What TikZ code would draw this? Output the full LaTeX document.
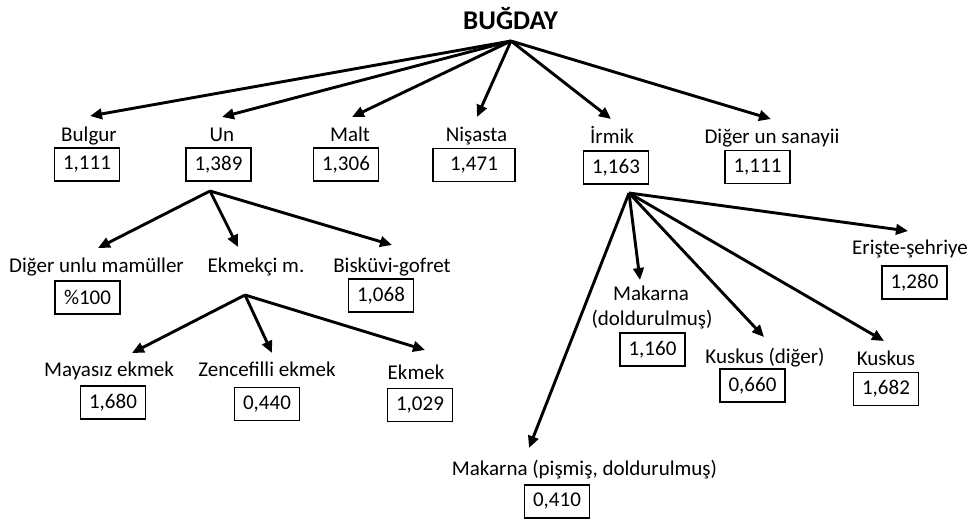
\documentclass[tikz,border=0pt]{standalone}
\usepackage{fontspec}
\setmainfont{Carlito}
\usetikzlibrary{arrows.meta}
\tikzset{
  lab/.style={inner sep=0pt, anchor=base, font=\fontsize{21}{25}\selectfont},
  valbox/.style={draw, line width=1.5pt, minimum width=65pt, minimum height=33pt, inner sep=0pt, font=\fontsize{21}{25}\selectfont},
  arr/.style={line width=2.9pt, -{Triangle[length=12pt,width=10.5pt]}}
}
\begin{document}
\begin{tikzpicture}[x=1pt,y=-1pt]
\useasboundingbox (0,0) rectangle (972,521);
% root
\node[inner sep=0pt, anchor=base, font=\fontsize{27}{31}\selectfont\bfseries] (bugday) at (510.5,30) {BUĞDAY};
\coordinate (a0) at (511,41);
% level 1
\node[lab] (lbul) at (89,142) {Bulgur};
\node[valbox] (bbul) at (87,164.5) {1,111};
\node[lab] (lun) at (222,142) {Un};
\node[valbox] (bun) at (218.5,164.5) {1,389};
\node[lab] (lmalt) at (350,142) {Malt};
\node[valbox] (bmalt) at (346,164.5) {1,306};
\node[lab] (lnis) at (476.5,142) {Nişasta};
\node[valbox, minimum width=82pt] (bnis) at (474,165) {1,471};
\node[lab] (lirm) at (612,144) {İrmik};
\node[valbox] (birm) at (616,167.5) {1,163};
\node[lab] (ldig) at (772,144) {Diğer un sanayii};
\node[valbox] (bdig) at (757.5,167) {1,111};
\coordinate (t1) at (90,116);
\coordinate (t2) at (222,117);
\coordinate (t3) at (352,117);
\coordinate (t4) at (477,117);
\coordinate (t5) at (611,119);
\coordinate (t6) at (771,119);
\foreach \t in {t1,t2,t3,t4,t5,t6} \draw[arr] (a0) -- (\t);
% level 2 (Un)
\coordinate (a1) at (210,191);
\node[lab] (ldum) at (96.5,273) {Diğer unlu mamüller};
\node[valbox] (bdum) at (87.5,297.5) {\%100};
\node[lab] (lekm) at (256,273) {Ekmekçi m.};
\node[lab] (lbis) at (392,273) {Bisküvi-gofret};
\node[valbox] (bbis) at (381,295.5) {1,068};
\coordinate (u1) at (98,248);
\coordinate (u2) at (238,247);
\coordinate (u3) at (392,245);
\foreach \t in {u1,u2,u3} \draw[arr] (a1) -- (\t);
% level 3 (Ekmekci)
\coordinate (a2) at (245,295);
\node[lab] (lmay) at (109,377) {Mayasız ekmek};
\node[valbox] (bmay) at (113,402.5) {1,680};
\node[lab] (lzen) at (267,377) {Zencefilli ekmek};
\node[valbox] (bzen) at (267,404) {0,440};
\node[lab] (lek) at (416,379) {Ekmek};
\node[valbox] (bek) at (420,405) {1,029};
\coordinate (e1) at (132,353);
\coordinate (e2) at (272,353);
\coordinate (e3) at (425,350);
\foreach \t in {e1,e2,e3} \draw[arr] (a2) -- (\t);
% level 2 (Irmik)
\coordinate (a3) at (629,193);
\node[lab] (leri) at (910,255) {Erişte-şehriye};
\node[valbox] (beri) at (914.5,282.5) {1,280};
\node[lab] (lmak1) at (651,301) {Makarna};
\node[lab] (lmak1b) at (652,326) {(doldurulmuş)};
\node[valbox] (bmak1) at (652.5,349.5) {1,160};
\node[lab] (lkd) at (765,363) {Kuskus (diğer)};
\node[valbox] (bkd) at (752.5,385.5) {0,660};
\node[lab] (lkus) at (886,365) {Kuskus};
\node[valbox] (bkus) at (886,389) {1,682};
\node[lab] (lmak2) at (584.5,475) {Makarna (pişmiş, doldurulmuş)};
\node[valbox] (bmak2) at (557,501.5) {0,410};
\coordinate (i1) at (908,231);
\coordinate (i2) at (640,280);
\coordinate (i3) at (764,337);
\coordinate (i4) at (884,341);
\coordinate (i5) at (529,448);
\foreach \t in {i1,i2,i3,i4,i5} \draw[arr] (a3) -- (\t);
\end{tikzpicture}
\end{document}
